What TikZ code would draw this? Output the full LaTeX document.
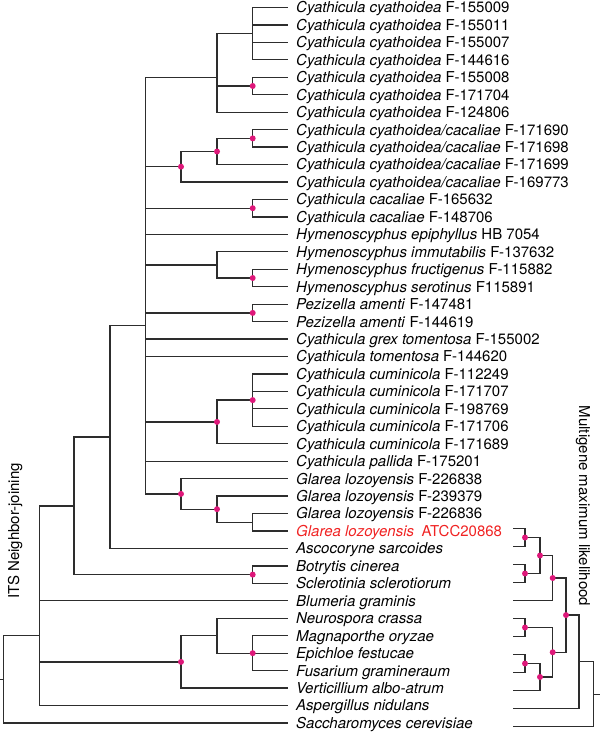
\documentclass[tikz,border=0pt]{standalone}
\usepackage{fontspec}
\setmainfont{TeX Gyre Heros}

\definecolor{treegray}{RGB}{45,45,45}
\definecolor{support}{RGB}{222,24,122}
\definecolor{strain}{RGB}{240,35,35}

\tikzset{
 taxon/.style={anchor=west,inner sep=0pt,text height=10.8pt,text depth=0pt,font=\fontsize{15}{17}\selectfont},
 branch/.style={draw=treegray,line width=1.25pt},
 boot/.style={circle,fill=support,inner sep=0pt,minimum size=6pt},
 method/.style={inner sep=0pt,anchor=base,font=\fontsize{15}{17}\selectfont}
}

\begin{document}
\begin{tikzpicture}[x=1pt,y=-1pt]
 \useasboundingbox (0,0) rectangle (600,733);

 \foreach \lab [count=\i] in {
  {\textit{Cyathicula cyathoidea} F-155009},
  {\textit{Cyathicula cyathoidea} F-155011},
  {\textit{Cyathicula cyathoidea} F-155007},
  {\textit{Cyathicula cyathoidea} F-144616},
  {\textit{Cyathicula cyathoidea} F-155008},
  {\textit{Cyathicula cyathoidea} F-171704},
  {\textit{Cyathicula cyathoidea} F-124806},
  {\textit{Cyathicula cyathoidea/cacaliae} F-171690},
  {\textit{Cyathicula cyathoidea/cacaliae} F-171698},
  {\textit{Cyathicula cyathoidea/cacaliae} F-171699},
  {\textit{Cyathicula cyathoidea/cacaliae} F-169773},
  {\textit{Cyathicula cacaliae} F-165632},
  {\textit{Cyathicula cacaliae} F-148706},
  {\textit{Hymenoscyphus epiphyllus} HB 7054},
  {\textit{Hymenoscyphus immutabilis} F-137632},
  {\textit{Hymenoscyphus fructigenus} F-115882},
  {\textit{Hymenoscyphus serotinus} F115891},
  {\textit{Pezizella amenti} F-147481},
  {\textit{Pezizella amenti} F-144619},
  {\textit{Cyathicula grex tomentosa} F-155002},
  {\textit{Cyathicula tomentosa} F-144620},
  {\textit{Cyathicula cuminicola} F-112249},
  {\textit{Cyathicula cuminicola} F-171707},
  {\textit{Cyathicula cuminicola} F-198769},
  {\textit{Cyathicula cuminicola} F-171706},
  {\textit{Cyathicula cuminicola} F-171689},
  {\textit{Cyathicula pallida} F-175201},
  {\textit{Glarea lozoyensis} F-226838},
  {\textit{Glarea lozoyensis} F-239379},
  {\textit{Glarea lozoyensis} F-226836},
  {\color{strain}\textit{Glarea lozoyensis}\enspace ATCC20868},
  {\textit{Ascocoryne sarcoides}},
  {\textit{Botrytis cinerea}},
  {\textit{Sclerotinia sclerotiorum}},
  {\textit{Blumeria graminis}},
  {\textit{Neurospora crassa}},
  {\textit{Magnaporthe oryzae}},
  {\textit{Epichloe festucae}},
  {\textit{Fusarium gramineraum}},
  {\textit{Verticillium albo-atrum}},
  {\textit{Aspergillus nidulans}},
  {\textit{Saccharomyces cerevisiae}}} {
  \coordinate (t\i) at (288,{7.5+(\i-1)*17.45});
  \node[taxon] (s\i) at ([xshift=8pt]t\i) {\lab};
 }

 % ITS neighbor-joining tree
 \coordinate (stub) at (0,679.3);
 \coordinate (root) at (3.3,679.3);
 \coordinate (ascom) at (39.3,635.7);
 \coordinate (leot) at (74,505.9);
 \coordinate (helot) at (110,437.1);
 \coordinate (core) at (145.7,325.7);
 \coordinate (cyath) at (217,77.3);
 \coordinate (cyathA) at (252.7,33.7);
 \coordinate (cyathB) at (252.7,86);
 \coordinate (cacal) at (181,166.7);
 \coordinate (cacalA) at (217,151.5);
 \coordinate (cacalB) at (252.7,138.4);
 \coordinate (cacaliae) at (252.7,208.2);
 \coordinate (hymen) at (217,264.9);
 \coordinate (hymenA) at (252.7,278);
 \coordinate (pez) at (252.7,312.9);
 \coordinate (cumin) at (217,421.9);
 \coordinate (cuminA) at (252.7,400.1);
 \coordinate (glarea) at (181,493.9);
 \coordinate (glareaA) at (217,509.2);
 \coordinate (glareaB) at (252.7,522.3);
 \coordinate (botry) at (252.7,574.6);
 \coordinate (sordA) at (181,661.9);
 \coordinate (sordB) at (217,635.7);
 \coordinate (sordC) at (252.7,653.15);

 \draw[branch] (stub) -- (root)
  foreach \p/\c in {root/ascom,root/t42,
  ascom/leot,ascom/t35,ascom/sordA,ascom/t41,
  leot/helot,leot/botry,helot/core,helot/t32,
  core/cyath,core/cacal,core/cacaliae,core/t14,core/hymen,core/pez,
  core/t20,core/t21,core/cumin,core/t27,core/glarea,
  cyath/cyathA,cyath/cyathB,cyath/t7,
  cyathA/t1,cyathA/t2,cyathA/t3,cyathA/t4,cyathB/t5,cyathB/t6,
  cacal/cacalA,cacal/t11,cacalA/cacalB,cacalA/t10,cacalB/t8,cacalB/t9,
  cacaliae/t12,cacaliae/t13,
  hymen/t15,hymen/hymenA,hymenA/t16,hymenA/t17,pez/t18,pez/t19,
  cumin/cuminA,cumin/t26,cuminA/t22,cuminA/t23,cuminA/t24,cuminA/t25,
  glarea/t28,glarea/glareaA,glareaA/t29,glareaA/glareaB,glareaB/t30,glareaB/t31,
  botry/t33,botry/t34,
  sordA/sordB,sordA/t40,sordB/t36,sordB/sordC,sordC/t37,sordC/t38,sordC/t39}
  {(\p) |- (\c)};

 % multigene maximum likelihood tree
 \foreach \k in {1,...,12}
  \coordinate (m\k) at (513.3,{528.5+(\k-1)*18});
 \coordinate (mlA) at (525,537.5);
 \coordinate (mlB) at (525,573.5);
 \coordinate (mlC) at (540,555.5);
 \coordinate (mlD) at (552.7,578);
 \coordinate (mlE) at (525,627.5);
 \coordinate (mlF) at (525,663.5);
 \coordinate (mlG) at (540,677);
 \coordinate (mlH) at (552.7,652.25);
 \coordinate (mlI) at (566,615.1);
 \coordinate (mlJ) at (579,661.8);
 \coordinate (mlK) at (593.3,694.2);
 \coordinate (mlstub) at (600,694.2);

 \draw[branch] (mlK) -- (mlstub)
  foreach \p/\c in {mlA/m1,mlA/m2,mlB/m3,mlB/m4,mlC/mlA,mlC/mlB,
  mlD/mlC,mlD/m5,mlE/m6,mlE/m7,mlF/m8,mlF/m9,mlG/mlF,mlG/m10,
  mlH/mlE,mlH/mlG,mlI/mlD,mlI/mlH,mlJ/mlI,mlJ/m11,mlK/mlJ,mlK/m12}
  {(\p) |- (\c)};

 \foreach \n in {cyathB,cacal,cacalA,cacalB,cacaliae,hymenA,pez,cumin,cuminA,
  glarea,glareaA,botry,sordA,sordC,mlA,mlB,mlC,mlD,mlE,mlF,mlG,mlH,mlI}
  \node[boot] (d-\n) at (\n) {};

 \node[method,rotate=90] (its) at (19,531) {ITS Neighbor-joining};
 \node[method,rotate=-90] (mgml) at (579,506) {Multigene maximum likelihood};
\end{tikzpicture}
\end{document}
